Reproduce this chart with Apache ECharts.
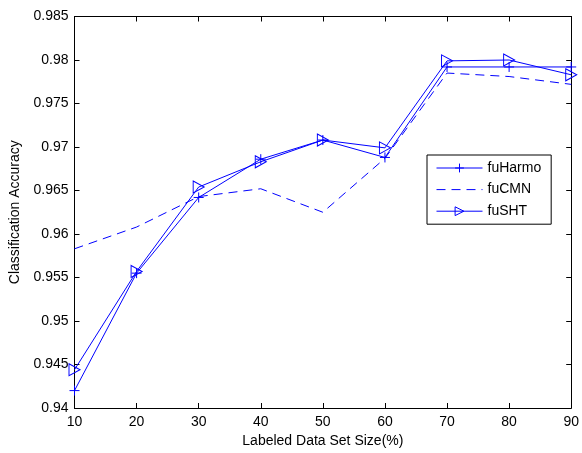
<!DOCTYPE html>
<html><head><meta charset="utf-8">
<script src="https://cdn.jsdelivr.net/npm/echarts@6/dist/echarts.min.js"></script>
<style>html,body{margin:0;padding:0;background:#fff}#c{width:582px;height:453px}</style>
</head><body><div id="c"></div>
<script>
const sizes = [10, 20, 30, 40, 50, 60, 70, 80, 90];
const fuHarmo = [0.9420, 0.9555, 0.9642, 0.9686, 0.9708, 0.9688, 0.9792, 0.9792, 0.9792];
const fuCMN = [0.9583, 0.9608, 0.9643, 0.9652, 0.9625, 0.9687, 0.9785, 0.9781, 0.9772];
const fuSHT = [0.9444, 0.9557, 0.9654, 0.9683, 0.9708, 0.9699, 0.9799, 0.9800, 0.9783];
const seriesNames = ['fuHarmo', 'fuCMN', 'fuSHT'];

const font = 'Liberation Sans, Arial, Helvetica, sans-serif';
const blue = '#0000ff';
const pair = (arr) => sizes.map((x, i) => [x, arr[i]]);
const chart = echarts.init(document.getElementById('c'), null, {renderer: 'canvas'});
const axisCommon = {
  axisLine: {show: true, lineStyle: {color: '#000', width: 1}},
  splitLine: {show: false},
  axisTick: {show: true, inside: true, length: 5, lineStyle: {color: '#000'}},
};
chart.setOption({
  animation: false,
  backgroundColor: '#fff',
  grid: {left: 74.5, right: 9.5, top: 16.5, bottom: 44.7},
  legend: {
    data: [
      {name: seriesNames[0]},
      {name: seriesNames[1], itemStyle: {opacity: 0}},
      {name: seriesNames[2]}
    ],
    orient: 'vertical', left: 427, top: 155,
    padding: [5, 10, 5, 9], itemWidth: 46, itemHeight: 11, itemGap: 5.6,
    borderColor: '#000', borderWidth: 1, backgroundColor: '#fff',
    lineStyle: {width: 1, color: blue},
    itemStyle: {color: 'none', borderColor: blue, borderWidth: 1},
    textStyle: {fontFamily: font, fontSize: 14, color: '#000', lineHeight: 16}
  },
  xAxis: [
    Object.assign({}, axisCommon, {
      type: 'value', min: 10, max: 90, interval: 10,
      name: 'Labeled Data Set Size(%)', nameLocation: 'middle', nameGap: 26,
      nameTextStyle: {fontFamily: font, fontSize: 14, color: '#000'},
      axisLabel: {fontFamily: font, fontSize: 14, color: '#000', margin: 7}
    }),
    Object.assign({}, axisCommon, {
      type: 'value', min: 10, max: 90, interval: 10, position: 'top',
      axisLabel: {show: false}
    })
  ],
  yAxis: [
    Object.assign({}, axisCommon, {
      type: 'value', min: 0.94, max: 0.985, interval: 0.005,
      name: 'Classification Accuracy', nameLocation: 'middle', nameGap: 51,
      nameTextStyle: {fontFamily: font, fontSize: 14, color: '#000'},
      axisLabel: {fontFamily: font, fontSize: 14, color: '#000', margin: 6,
        formatter: v => parseFloat(v.toFixed(3)).toString()}
    }),
    Object.assign({}, axisCommon, {
      type: 'value', min: 0.94, max: 0.985, interval: 0.005, position: 'right',
      axisLabel: {show: false}
    })
  ],
  series: [
    {
      name: 'fuHarmo', type: 'line', data: pair(fuHarmo),
      symbol: 'path://M0,5L10,5M5,0L5,10', symbolSize: 10,
      itemStyle: {color: 'none', borderColor: blue, borderWidth: 1},
      lineStyle: {color: blue, width: 1}
    },
    {
      name: 'fuCMN', type: 'line', data: pair(fuCMN),
      symbol: 'none',
      itemStyle: {color: blue},
      lineStyle: {color: blue, width: 1, type: [9, 6]}
    },
    {
      name: 'fuSHT', type: 'line', data: pair(fuSHT),
      symbol: 'path://M0,0L10,5L0,10Z', symbolSize: [11, 12],
      itemStyle: {color: 'none', borderColor: blue, borderWidth: 1},
      lineStyle: {color: blue, width: 1}
    }
  ]
});
</script></body></html>
